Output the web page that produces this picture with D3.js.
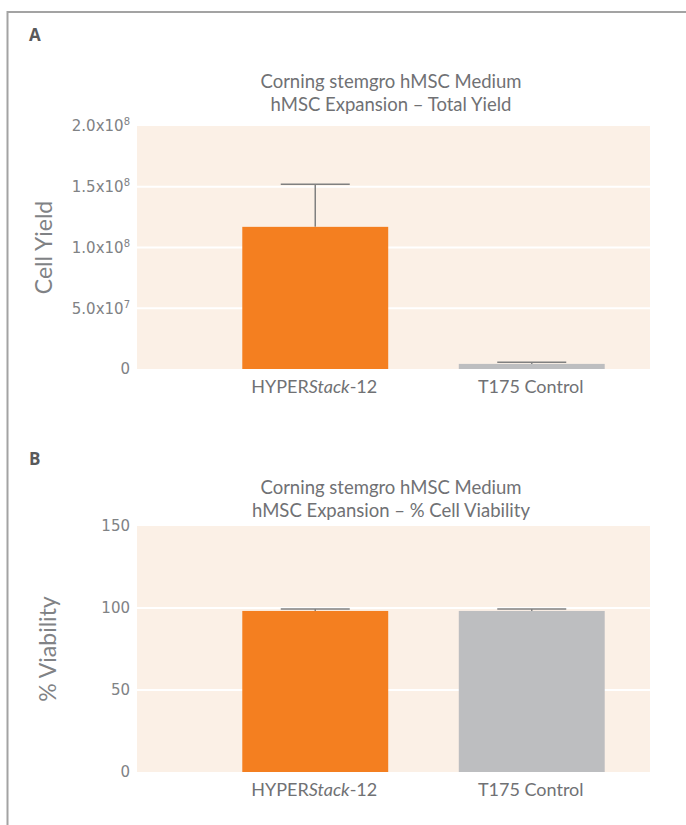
<!DOCTYPE html>
<html>
<head>
<meta charset="utf-8">
<script src="https://cdnjs.cloudflare.com/ajax/libs/d3/7.8.5/d3.min.js"></script>
<style>
  body { margin: 0; background: #fff; }
  svg { display: block; }
</style>
</head>
<body>
<div id="chart"></div>
<script>
// values
const categories = ["HYPERStack-12", "T175 Control"];
const barColors = ["#f47f20", "#bdbec0"];

const yieldMean = [1.17e8, 4.2e6];
const yieldErr = [3.5e7, 1.4e6];
const yieldTicks = [0, 5e7, 1e8, 1.5e8, 2e8];

const viabilityMean = [98.2, 98.2];
const viabilityErr = [1.2, 1.2];
const viabilityTicks = [0, 50, 100, 150];

const W = 686, H = 825;
const svg = d3.select("#chart").append("svg")
  .attr("width", W)
  .attr("height", H);

const textGray = "#707174";
const tickGray = "#808285";
const titleFont = "Lato, 'Open Sans', sans-serif";

// frame round the figure
svg.append("line")
  .attr("x1", 7).attr("x2", W).attr("y1", 12).attr("y2", 12)
  .style("stroke", "#a3a3a3").style("stroke-width", 2);
svg.append("line")
  .attr("x1", 7.5).attr("x2", 7.5).attr("y1", 11).attr("y2", H)
  .style("stroke", "#a3a3a3").style("stroke-width", 2);

function sciLabel(v){
  if(v == 0) return ["0", null];
  let e = Math.floor(Math.log10(v));
  let m = v / Math.pow(10, e);
  return [m.toFixed(1) + "x10", String(e)];
}

function drawPanel(p){
  let g = svg.append("g");

  let y = d3.scaleLinear().domain(p.domain).range([p.bottom, p.top]);
  let x = d3.scaleBand().domain(categories)
    .range([207, 640]).paddingInner(0.326).paddingOuter(0.163);

  // panel letter
  g.append("text")
    .attr("x", 29).attr("y", p.letterY)
    .style("font-family", "'Open Sans', sans-serif")
    .style("font-weight", "bold")
    .style("font-size", "17px")
    .style("fill", "#58595b")
    .text(p.letter);

  // title, two lines
  p.title.forEach((t, i) => {
    g.append("text")
      .attr("x", 391).attr("y", p.titleY + i * 22.5)
      .attr("text-anchor", "middle")
      .style("font-family", titleFont)
      .style("font-size", "18.5px")
      .style("fill", textGray)
      .text(t);
  });

  // plot background
  g.append("rect")
    .attr("x", 137).attr("y", y(p.domain[1]))
    .attr("width", 513).attr("height", y(0) - y(p.domain[1]))
    .style("fill", "#fbf0e6");

  // white grid lines
  g.selectAll(".grid")
    .data(p.ticks.filter(t => t > 0 && t < p.domain[1]))
    .enter().append("line")
    .attr("class", "grid")
    .attr("x1", 137).attr("x2", 650)
    .attr("y1", d => y(d)).attr("y2", d => y(d))
    .style("stroke", "#fff").style("stroke-width", 2);

  // y axis
  let ax = g.append("g")
    .attr("transform", "translate(137,0)")
    .call(d3.axisLeft(y).tickValues(p.ticks).tickSize(0).tickPadding(7)
      .tickFormat(d => p.sci ? "" : d));
  ax.select(".domain").remove();
  ax.selectAll("text")
    .style("font-family", "'DejaVu Sans', Verdana, sans-serif")
    .style("font-size", "15px")
    .style("fill", tickGray);
  if(p.sci){
    ax.selectAll("text").each(function(d){
      let parts = sciLabel(d);
      let t = d3.select(this);
      t.append("tspan").text(parts[0]);
      if(parts[1]) t.append("tspan").attr("dy", "-6").style("font-size", "10px").text(parts[1]);
    });
  }

  // y axis title
  g.append("text")
    .attr("transform", "translate(" + p.yTitleX + "," + ((p.top + p.bottom) / 2) + ") rotate(-90)")
    .attr("text-anchor", "middle")
    .style("font-family", titleFont)
    .style("font-size", "23px")
    .style("fill", tickGray)
    .text(p.yTitle);

  // error bars (upper half only)
  let capW = 69;
  categories.forEach((c, i) => {
    let cx = x(c) + x.bandwidth() / 2;
    g.append("line")
      .attr("x1", cx).attr("x2", cx)
      .attr("y1", y(p.mean[i])).attr("y2", y(p.mean[i] + p.err[i]))
      .style("stroke", "#808080").style("stroke-width", 1.5);
    g.append("line")
      .attr("x1", cx - capW / 2).attr("x2", cx + capW / 2)
      .attr("y1", y(p.mean[i] + p.err[i])).attr("y2", y(p.mean[i] + p.err[i]))
      .style("stroke", "#808080").style("stroke-width", 1.5);
  });

  // bars
  g.selectAll(".bar")
    .data(categories)
    .enter().append("rect")
    .attr("class", "bar")
    .attr("x", d => x(d))
    .attr("width", x.bandwidth())
    .attr("y", (d, i) => y(p.mean[i]))
    .attr("height", (d, i) => y(0) - y(p.mean[i]))
    .style("fill", (d, i) => p.colors[i]);

  // category labels, "Stack" in italics
  categories.forEach(c => {
    let t = g.append("text")
      .attr("x", x(c) + x.bandwidth() / 2 - 1)
      .attr("y", p.bottom + 24)
      .attr("text-anchor", "middle")
      .style("font-family", titleFont)
      .style("font-size", "18px")
      .style("fill", textGray);
    if(c.indexOf("Stack") > 0){
      t.append("tspan").text("HYPER");
      t.append("tspan").style("font-style", "italic").text("Stack");
      t.append("tspan").text("-12");
    }else{
      t.text(c);
    }
  });
}

drawPanel({
  letter: "A", letterY: 41,
  title: ["Corning stemgro hMSC Medium", "hMSC Expansion \u2013 Total Yield"],
  titleY: 88,
  domain: [0, 2e8], ticks: yieldTicks, sci: true,
  top: 126, bottom: 369,
  mean: yieldMean, err: yieldErr,
  colors: [barColors[0], barColors[1]],
  yTitle: "Cell Yield", yTitleX: 52
});

drawPanel({
  letter: "B", letterY: 465,
  title: ["Corning stemgro hMSC Medium", "hMSC Expansion \u2013 % Cell Viability"],
  titleY: 494,
  domain: [0, 150], ticks: viabilityTicks, sci: false,
  top: 526, bottom: 772,
  mean: viabilityMean, err: viabilityErr,
  colors: [barColors[0], barColors[1]],
  yTitle: "% Viability", yTitleX: 56
});
</script>
</body>
</html>
